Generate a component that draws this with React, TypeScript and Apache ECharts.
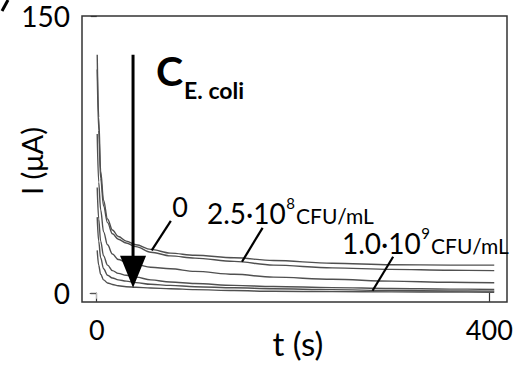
import React, { useEffect, useRef } from "react";
import * as echarts from "echarts";

// time points (s)
const times = [0.5, 2, 4, 7, 11, 16, 22, 30, 40, 55, 75, 100, 140, 180, 240, 300, 360, 405];
// current (µA) for each E. coli concentration (top = 0, bottom = 1.0·10^9 CFU/mL)
const curve0 = [129, 95, 66, 50, 40, 34, 30.5, 28, 26, 23.5, 21.5, 20.3, 19, 17.5, 16, 15.2, 15, 15];
const curve1 = [121, 88, 62, 47, 38, 32, 29, 27, 25, 22, 20, 18.8, 17, 15, 13.5, 12.7, 12.2, 12];
const curve2 = [86, 60, 45, 33, 26, 21, 18, 16.5, 15.3, 13.8, 13, 11.6, 10, 8.5, 7.3, 6.3, 5.7, 5.4];
const curve3 = [57, 40, 28, 20, 15, 12, 10.5, 9.5, 8.5, 7, 5.8, 5, 4, 3.4, 2.8, 2.3, 2, 1.8];
const curve4 = [41, 28, 19, 13, 9.5, 8, 7, 6.3, 5.5, 4.6, 4, 3.3, 2.7, 2.2, 1.7, 1.2, 1, 0.9];
const curve5 = [23, 15, 10, 7, 5.3, 4.5, 3.8, 3.3, 3, 2.6, 2.2, 1.7, 1.2, 0.8, 0.6, 0.5, 0.4, 0.3];
const curves = [curve0, curve1, curve2, curve3, curve4, curve5];

const xTicks = [0, 400];
const yTicks = [0, 150];

const FONT = "Lato";
const BASE = 0.82; // baseline offset (em) below the top of a top-aligned text box

function textWidth(text: string, size: number, weight = "normal") {
  const c = document.createElement("canvas").getContext("2d");
  if (!c) return text.length * size * 0.55;
  c.font = `${weight} ${size}px ${FONT}`;
  return c.measureText(text).width;
}

function txt(x: number, baseline: number, text: string, size: number, weight = "normal") {
  return {
    type: "text", x, y: baseline - BASE * size, z: 10,
    style: { text, fontSize: size, fontWeight: weight, fontFamily: FONT, fill: "#000", verticalAlign: "top" },
  };
}

function concLabel(x: number, baseline: number, main: string, exp: string) {
  const MAIN = 28, SUP = 15, UNIT = 21;
  const w1 = textWidth(main, MAIN);
  const w2 = textWidth(exp, SUP);
  return [
    txt(x, baseline, main, MAIN),
    txt(x + w1 + 0.5, baseline - 14, exp, SUP),
    txt(x + w1 + w2 + 1.5, baseline, "CFU/mL", UNIT),
  ];
}

export default function App() {
  const ref = useRef<HTMLDivElement>(null);
  useEffect(() => {
    if (!ref.current) return;
    const chart = echarts.init(ref.current, undefined, { renderer: "svg" });
    const series = curves.map((c, i) => ({
      type: "line",
      name: "c" + i,
      data: times.map((t, j) => [t, c[j]]),
      showSymbol: false,
      smooth: 0.35,
      smoothMonotone: "x",
      lineStyle: { color: "#505050", width: 1.4 },
      z: 2,
    }));
    chart.setOption({
      animation: false,
      grid: { left: 82, right: 20, top: 16, bottom: 65, show: true, borderColor: "#333", borderWidth: 1.5, backgroundColor: "transparent" },
      xAxis: [
        {
          type: "value", min: -15, max: 418, position: "bottom",
          axisLine: { show: false },
          splitLine: { show: false },
          axisTick: { show: true, customValues: xTicks, length: 9, lineStyle: { color: "#333", width: 1.2 } },
          axisLabel: { customValues: xTicks, fontSize: 27, fontFamily: FONT, color: "#000", margin: 14 },
        },
        {
          type: "value", min: -15, max: 418, position: "top",
          axisLine: { show: false }, splitLine: { show: false },
          axisTick: { show: true, inside: true, customValues: [0], length: 6, lineStyle: { color: "#bbb", width: 1 } },
          axisLabel: { show: false },
        },
      ],
      yAxis: [
        {
          type: "value", min: -5, max: 150,
          axisLine: { show: false }, splitLine: { show: false },
          axisTick: { show: true, customValues: yTicks, length: 6, lineStyle: { color: "#333", width: 1.2 } },
          axisLabel: { customValues: yTicks, fontSize: 28, fontFamily: FONT, color: "#000", margin: 12 },
        },
        {
          type: "value", min: -5, max: 150, position: "right",
          axisLine: { show: false }, splitLine: { show: false },
          axisTick: { show: true, inside: true, customValues: [0], length: 7, lineStyle: { color: "#555", width: 1.2 } },
          axisLabel: { show: false },
        },
      ],
      series,
    });

    const p = (t: number, v: number) => chart.convertToPixel({ xAxisIndex: 0, yAxisIndex: 0 }, [t, v]) as number[];
    const arrowTop = p(37, 129);
    const arrowHead = p(37, 20);
    const arrowTip = p(37, 2.7);
    const ptr0a = p(75.5, 39), ptr0b = p(56, 23);
    const ptr1a = p(169, 35.2), ptr1b = p(148, 16.8);
    const ptr2a = p(302, 19.5), ptr2b = p(281, 1.1);

    const lineEl = (a: number[], b: number[], w = 2.2) => ({
      type: "line",
      shape: { x1: a[0], y1: a[1], x2: b[0], y2: b[1] },
      style: { stroke: "#000", lineWidth: w },
      z: 10,
    });

    const wC = textWidth("C", 41, "bold");

    chart.setOption({
      graphic: [
        lineEl(arrowTop, [arrowHead[0], arrowHead[1] + 2], 3),
        {
          type: "polygon",
          shape: { points: [[arrowHead[0] - 13, arrowHead[1]], [arrowHead[0] + 13, arrowHead[1]], [arrowTip[0], arrowTip[1]]] },
          style: { fill: "#000" },
          z: 10,
        },
        lineEl(ptr0a, ptr0b),
        lineEl(ptr1a, ptr1b),
        lineEl(ptr2a, ptr2b),
        { type: "line", shape: { x1: 2, y1: 11, x2: 8, y2: 0 }, style: { stroke: "#000", lineWidth: 3 } },
        txt(156, 84, "C", 41, "bold"),
        txt(156 + wC + 1, 97, "E. coli", 23, "bold"),
        {
          type: "text", x: 180, y: 206,
          style: { text: "0", fontSize: 27, fontFamily: FONT, fill: "#000", align: "center", verticalAlign: "middle" },
          z: 10,
        },
        ...concLabel(207, 222, "2.5·10", "8"),
        ...concLabel(342, 252, "1.0·10", "9"),
        {
          type: "text", x: 298, y: 343,
          style: { text: "t (s)", fontSize: 33, fontFamily: FONT, fill: "#000", align: "center", verticalAlign: "middle" },
        },
        {
          type: "text", x: 31, y: 161, rotation: Math.PI / 2,
          style: { text: "I (μA)", fontSize: 29, fontFamily: FONT, fill: "#000", align: "center", verticalAlign: "middle" },
        },
      ],
    });
    return () => chart.dispose();
  }, []);
  return <div ref={ref} style={{ position: "fixed", left: 0, top: 0, width: 527, height: 367, background: "#fff" }} />;
}
